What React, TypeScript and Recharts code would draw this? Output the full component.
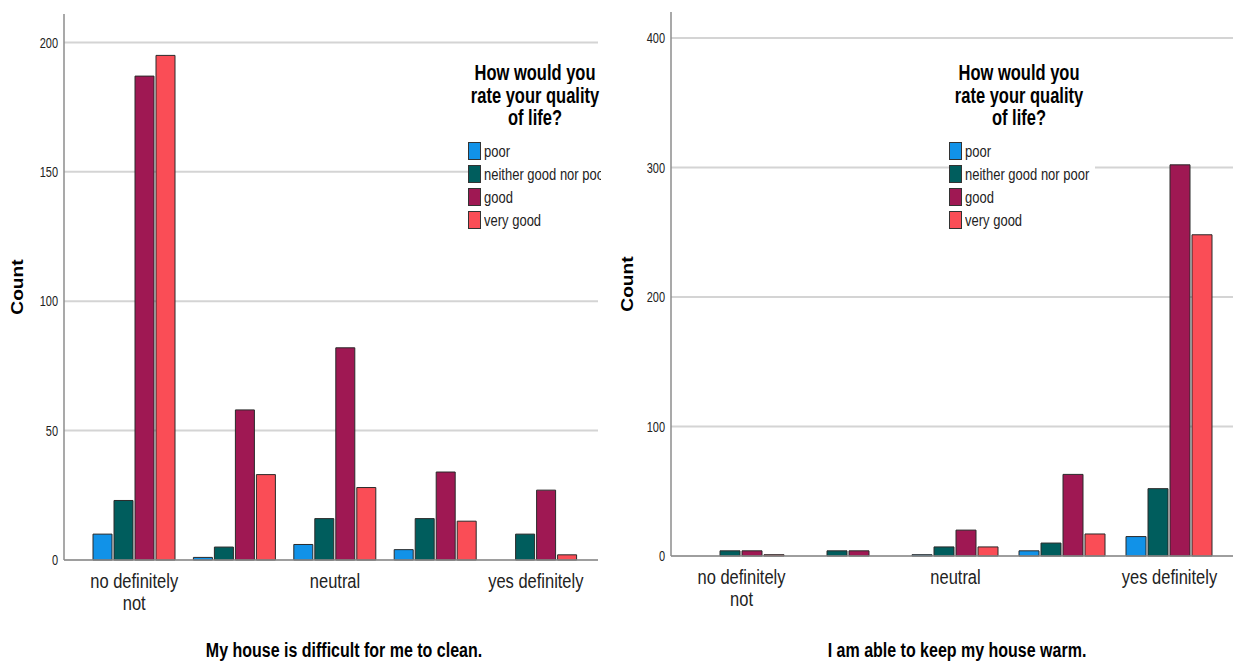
import { BarChart, Bar, XAxis, YAxis, CartesianGrid, Label } from 'recharts';

const FONT = '"Liberation Sans", Arial, "DejaVu Sans", sans-serif';

// x categories (2nd and 4th labels are skipped on the axis, like the original)
const categories = ['no definitely not', 'no', 'neutral', 'yes', 'yes definitely'];

// legend groups
const qolLabels = ['poor', 'neither good nor poor', 'good', 'very good'];
const qolColors = ['#1192e8', '#005d5d', '#9f1853', '#fa4d56'];
const legendTitle = ['How would you', 'rate your quality', 'of life?'];

// My house is difficult for me to clean.
const cleanPoor = [10, 1, 6, 4, 0];
const cleanNeither = [23, 5, 16, 16, 10];
const cleanGood = [187, 58, 82, 34, 27];
const cleanVeryGood = [195, 33, 28, 15, 2];
const cleanTicks = [0, 50, 100, 150, 200];

// I am able to keep my house warm.
const warmPoor = [0, 0, 1, 4, 15];
const warmNeither = [4, 4, 7, 10, 52];
const warmGood = [4, 4, 20, 63, 302];
const warmVeryGood = [1, 0, 7, 17, 248];
const warmTicks = [0, 100, 200, 300, 400];

const keys = ['poor', 'neither', 'good', 'veryGood'];

const buildRows = (series: number[][]) =>
  categories.map((c, i) => ({
    name: c,
    poor: series[0][i],
    neither: series[1][i],
    good: series[2][i],
    veryGood: series[3][i],
  }));

const cleanData = buildRows([cleanPoor, cleanNeither, cleanGood, cleanVeryGood]);
const warmData = buildRows([warmPoor, warmNeither, warmGood, warmVeryGood]);

// y tick, stretched a bit vertically like the screenshot
const YTick = (props: any) => {
  const { x, y, payload } = props;
  return (
    <text
      transform={`translate(${x},${y}) scale(1,1.35)`}
      textAnchor="end"
      dominantBaseline="central"
      fontSize={11}
      fontFamily={FONT}
      fill="#222"
    >
      {payload.value}
    </text>
  );
};

const XTick = (props: any) => {
  const { x, y, payload } = props;
  const v: string = payload.value;
  let lines = [v];
  if (v.length > 15) {
    const k = v.lastIndexOf(' ');
    lines = [v.slice(0, k), v.slice(k + 1)];
  }
  const s = 1.25;
  return (
    <text
      transform={`translate(${x},${y}) scale(1,${s})`}
      textAnchor="middle"
      fontSize={16.5}
      fontFamily={FONT}
      fill="#222"
    >
      {lines.map((l, i) => (
        <tspan key={i} x={0} y={(20 + i * 22) / s}>
          {l}
        </tspan>
      ))}
    </text>
  );
};

const CountLabel = (props: any) => {
  const { viewBox } = props;
  const cx = viewBox.x + 18;
  const cy = viewBox.y + viewBox.height / 2;
  return (
    <text
      transform={`translate(${cx},${cy}) rotate(-90) scale(1.2,1)`}
      textAnchor="middle"
      dominantBaseline="central"
      fontSize={16}
      fontWeight="bold"
      fontFamily={FONT}
      fill="#000"
    >
      Count
    </text>
  );
};

const AxisTitle = (props: any) => {
  const { viewBox, value, dx } = props;
  const cx = viewBox.x + viewBox.width / 2 + dx;
  const by = viewBox.y + viewBox.height - 4;
  const s = 1.3;
  return (
    <text
      transform={`translate(${cx},${by}) scale(1,${s})`}
      textAnchor="middle"
      fontSize={16}
      fontWeight="bold"
      fontFamily={FONT}
      fill="#000"
    >
      {value}
    </text>
  );
};

const QolLegend = ({ left, titleCenter }: { left: number; titleCenter: number }) => (
  <>
    {legendTitle.map((t, i) => (
      <div
        key={t}
        style={{
          position: 'absolute',
          left: titleCenter - 100,
          width: 200,
          top: 72 + i * 22.5 - 12,
          height: 24,
          lineHeight: '24px',
          textAlign: 'center',
          fontFamily: FONT,
          fontWeight: 'bold',
          fontSize: 16.5,
          color: '#000',
          transform: 'scaleY(1.3)',
          whiteSpace: 'nowrap',
        }}
      >
        {t}
      </div>
    ))}
    <div
      style={{
        position: 'absolute',
        left,
        top: 139.5,
        background: '#fff',
        paddingRight: 6,
      }}
    >
      {qolLabels.map((l, i) => (
        <div key={l} style={{ display: 'flex', alignItems: 'center', height: 23 }}>
          <div
            style={{
              width: 13,
              height: 18,
              boxSizing: 'border-box',
              border: '1px solid #333',
              background: qolColors[i],
            }}
          />
          <span
            style={{
              marginLeft: 3,
              fontFamily: FONT,
              fontSize: 13,
              color: '#222',
              display: 'inline-block',
              transform: 'scaleY(1.3)',
              whiteSpace: 'nowrap',
            }}
          >
            {l}
          </span>
        </div>
      ))}
    </div>
  </>
);

type PanelProps = {
  data: any[];
  width: number;
  height: number;
  top: number;
  yWidth: number;
  xHeight: number;
  max: number;
  ticks: number[];
  padLeft: number;
  padRight: number;
  gap: number;
  title: string;
  titleDx: number;
};

const Panel = (p: PanelProps) => (
  <BarChart
    width={p.width}
    height={p.height}
    data={p.data}
    margin={{ top: p.top, right: 0, left: 0, bottom: 0 }}
    barCategoryGap={p.gap}
    barGap={2}
  >
    {/* gridlines only at the tick values, no extra line at the top edge */}
    <CartesianGrid vertical={false} syncWithTicks stroke="#d4d4d4" strokeWidth={2} />
    <XAxis
      dataKey="name"
      height={p.xHeight}
      interval={1}
      tickLine={false}
      axisLine={{ stroke: '#8c8c8c', strokeWidth: 1.5 }}
      padding={{ left: p.padLeft, right: p.padRight }}
      tick={<XTick />}
    >
      <Label content={<AxisTitle value={p.title} dx={p.titleDx} />} />
    </XAxis>
    <YAxis
      width={p.yWidth}
      domain={[0, p.max]}
      ticks={p.ticks}
      tickLine={false}
      tickMargin={0}
      tickSize={6}
      axisLine={{ stroke: '#8c8c8c', strokeWidth: 1.5 }}
      tick={<YTick />}
    >
      <Label content={<CountLabel />} />
    </YAxis>
    {keys.map((k, i) => (
      <Bar
        key={k}
        dataKey={k}
        fill={qolColors[i]}
        stroke="#2a2a2a"
        strokeWidth={1}
        isAnimationActive={false}
      />
    ))}
  </BarChart>
);

export default function App() {
  return (
    <div
      style={{
        position: 'absolute',
        left: 0,
        top: 0,
        width: 1233,
        height: 661,
        overflow: 'hidden',
        background: '#fff',
      }}
    >
      <div style={{ position: 'absolute', left: 0, top: 0, width: 601, height: 661, overflow: 'hidden' }}>
        <Panel
          data={cleanData}
          width={598}
          height={661}
          top={14}
          yWidth={64}
          xHeight={101}
          max={211}
          ticks={cleanTicks}
          padLeft={20}
          padRight={12}
          gap={9}
          title="My house is difficult for me to clean."
          titleDx={13}
        />
        <QolLegend left={468} titleCenter={535} />
      </div>
      <div style={{ position: 'absolute', left: 610, top: 0, width: 627, height: 661 }}>
        <Panel
          data={warmData}
          width={627}
          height={661}
          top={12}
          yWidth={61}
          xHeight={105}
          max={420}
          ticks={warmTicks}
          padLeft={17}
          padRight={14}
          gap={10}
          title="I am able to keep my house warm."
          titleDx={3}
        />
        <QolLegend left={339} titleCenter={409} />
      </div>
    </div>
  );
}
